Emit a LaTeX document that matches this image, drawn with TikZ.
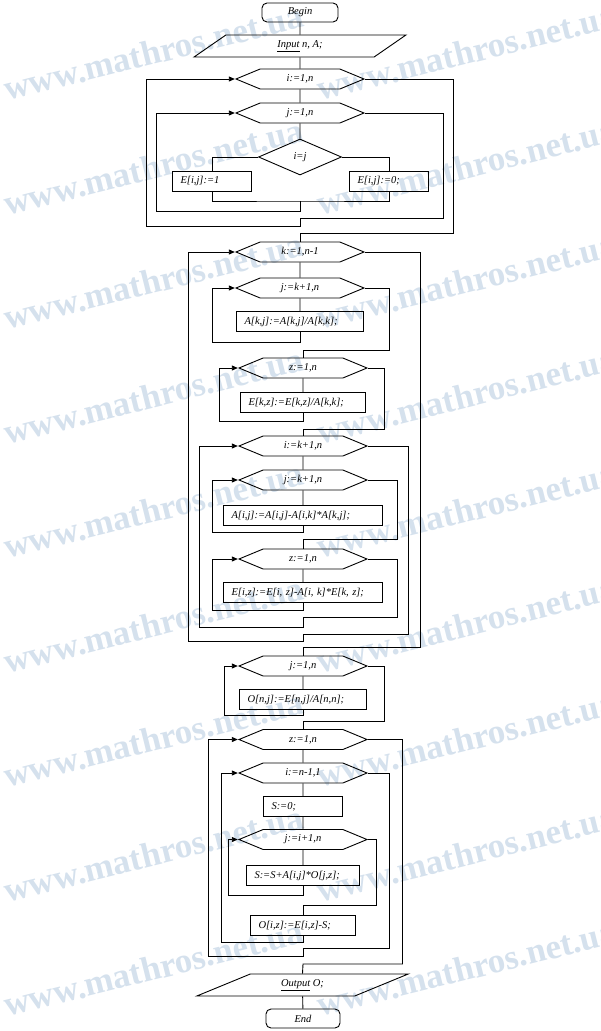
\documentclass[tikz,border=0pt]{standalone}
\usepackage{fontspec}
\setmainfont{Liberation Serif}
\usetikzlibrary{shapes.geometric,shapes.symbols,arrows.meta}

\definecolor{wmblue}{RGB}{213,225,237}
\tikzset{every picture/.style={line width=0.9pt}}
\tikzset{
	term/.style={draw, rounded corners=5, minimum width=#1, minimum height=19, inner sep=0},
	io/.style 2 args={draw, trapezium, trapezium left angle=#1, trapezium right angle={180-#1}, trapezium stretches=true, minimum width=#2, minimum height=22, inner sep=0},
	hexa/.style={draw, signal, signal to=west and east, signal pointer angle=45, minimum width=128, minimum height=20, inner sep=0},
	cond/.style={draw, diamond, minimum width=83, minimum height=36, inner sep=0},
	proc/.style={draw, minimum height=20, inner xsep=8, inner ysep=0, text width={#1-16}, align=left},
	arr/.style={-{Triangle[length=6pt,width=5pt]}},
	wm/.style={font=\fontsize{35}{35}\selectfont\bfseries, text=wmblue, rotate=14, anchor=base west, inner sep=0}
}

\begin{document}
\begin{tikzpicture}[x=1pt,y=1pt,yscale=-1,xscale=1,font=\itshape\fontsize{10.5}{12}\selectfont]
	\useasboundingbox (0,0) rectangle (600,1031);
	
	%Watermark
	\begin{scope}
		\clip (0,0) rectangle (600,1031);
		\foreach \r in {0,...,8}
			\foreach \c in {0,1}
				\node[wm] (wm-\r-\c) at ({7+313*\c},{101+114.5*\r}) {www.mathros.net.ua};
	\end{scope}
	
	%Shape: Terminal
	\node[term=76] (begin) at (300,12.5) {Begin};
	%Shape: Parallelogram
	\node[io={49}{213}] (input) at (300,46) {\underline{Input} n, A;};
	%Shape: Hexagon
	\node[hexa] (H1) at (300,79) {i:=1,n};
	\node[hexa] (H2) at (300,113) {j:=1,n};
	%Shape: Diamond
	\node[cond] (D) at (300,157) {i=j};
	%Shape: Rectangle
	\node[proc=79] (E1) at (212,181) {E[i,j]:=1};
	\node[proc=79] (E0) at (389,181) {E[i,j]:=0;};
	
	\node[hexa] (H3) at (300,252) {k:=1,n-1};
	\node[hexa] (H4) at (300,288) {j:=k+1,n};
	\node[proc=127] (B1) at (300,321.5) {A[k,j]:=A[k,j]/A[k,k];};
	\node[hexa] (H5) at (303,368) {z:=1,n};
	\node[proc=125] (B2) at (303,402.5) {E[k,z]:=E[k,z]/A[k,k];};
	\node[hexa] (H6) at (303,446) {i:=k+1,n};
	\node[hexa] (H7) at (303,480) {j:=k+1,n};
	\node[proc=159] (B3) at (303,515.5) {A[i,j]:=A[i,j]-A[i,k]*A[k,j];};
	\node[hexa] (H8) at (303,559) {z:=1,n};
	\node[proc=159] (B4) at (303,592.5) {E[i,z]:=E[i, z]-A[i, k]*E[k, z];};
	
	\node[hexa] (H9) at (303,666) {j:=1,n};
	\node[proc=127] (B5) at (303,699.5) {O[n,j]:=E[n,j]/A[n,n];};
	\node[hexa] (H10) at (303,739.5) {z:=1,n};
	\node[hexa] (H11) at (303,773) {i:=n-1,1};
	\node[proc=79] (B6) at (303,806.5) {S:=0;};
	\node[hexa] (H12) at (303,839.5) {j:=i+1,n};
	\node[proc=113] (B7) at (303,875.5) {S:=S+A[i,j]*O[j,z];};
	\node[proc=105] (B8) at (303,925.5) {O[i,z]:=E[i,z]-S;};
	\node[io={27}{212}] (output) at (302.5,985) {\underline{Output} O;};
	\node[term=74] (finish) at (303,1018.5) {End};
	
	%Loop corners
	\coordinate (M1) at (300,201);
	\coordinate (L2r) at (156,211);
	\coordinate (L2x) at (443,218);
	\coordinate (L2o) at (300,218);
	\coordinate (L1r) at (146,226);
	\coordinate (L1x) at (453,233);
	\coordinate (L1o) at (300,233);
	\coordinate (L4r) at (212,342);
	\coordinate (L4x) at (389,350);
	\coordinate (L4o) at (303,350);
	\coordinate (L5r) at (219,421);
	\coordinate (L5x) at (384,429);
	\coordinate (L5o) at (303,429);
	\coordinate (L7r) at (212,532);
	\coordinate (L7x) at (397,539);
	\coordinate (L7o) at (303,539);
	\coordinate (L8r) at (212,610);
	\coordinate (L8x) at (397,617);
	\coordinate (L8o) at (303,617);
	\coordinate (L6r) at (199,627);
	\coordinate (L6x) at (408.5,634);
	\coordinate (L6o) at (303,634);
	\coordinate (L3r) at (188.5,641);
	\coordinate (L3x) at (420.5,647);
	\coordinate (L3o) at (303,647);
	\coordinate (L9r) at (224.5,715.5);
	\coordinate (L9x) at (384,721);
	\coordinate (L9o) at (303,721);
	\coordinate (L12r) at (228.5,895);
	\coordinate (L12x) at (376,905);
	\coordinate (L12o) at (303,905);
	\coordinate (L11r) at (221.5,942.5);
	\coordinate (L11x) at (389,948.5);
	\coordinate (L11o) at (303,948.5);
	\coordinate (L10r) at (208.5,956);
	\coordinate (L10x) at (402.5,964);
	\coordinate (L10o) at (303,964);
	
	%Straight Lines
	\draw (begin) -- (input);
	\draw (input) -- (H1);
	\draw (H1) -- (H2);
	\draw (H2) -- (D);
	\draw (D.west) -| (E1.north);
	\draw (D.east) -| (E0.north);
	\draw (E1.south) |- (M1) -| (E0.south);
	\draw[arr] (M1) |- (L2r) |- (H2.west);
	\draw (H2.east) -| (L2x) -- (L2o);
	\draw[arr] (L2o) |- (L1r) |- (H1.west);
	\draw (H1.east) -| (L1x) -- (L1o) -- (H3.north);
	
	\draw (H3) -- (H4);
	\draw (H4) -- (B1);
	\draw[arr] (B1.south) |- (L4r) |- (H4.west);
	\draw (H4.east) -| (L4x) -- (L4o) -- (H5.north);
	\draw (H5) -- (B2);
	\draw[arr] (B2.south) |- (L5r) |- (H5.west);
	\draw (H5.east) -| (L5x) -- (L5o) -- (H6.north);
	\draw (H6) -- (H7);
	\draw (H7) -- (B3);
	\draw[arr] (B3.south) |- (L7r) |- (H7.west);
	\draw (H7.east) -| (L7x) -- (L7o) -- (H8.north);
	\draw (H8) -- (B4);
	\draw[arr] (B4.south) |- (L8r) |- (H8.west);
	\draw (H8.east) -| (L8x) -- (L8o);
	\draw[arr] (L8o) |- (L6r) |- (H6.west);
	\draw (H6.east) -| (L6x) -- (L6o);
	\draw[arr] (L6o) |- (L3r) |- (H3.west);
	\draw (H3.east) -| (L3x) -- (L3o) -- (H9.north);
	
	\draw (H9) -- (B5);
	\draw[arr] (B5.south) |- (L9r) |- (H9.west);
	\draw (H9.east) -| (L9x) -- (L9o) -- (H10.north);
	\draw (H10) -- (H11);
	\draw (H11) -- (B6);
	\draw (B6) -- (H12);
	\draw (H12) -- (B7);
	\draw[arr] (B7.south) |- (L12r) |- (H12.west);
	\draw (H12.east) -| (L12x) -- (L12o) -- (B8.north);
	\draw[arr] (B8.south) |- (L11r) |- (H11.west);
	\draw (H11.east) -| (L11x) -- (L11o);
	\draw[arr] (L11o) |- (L10r) |- (H10.west);
	\draw (H10.east) -| (L10x) -- (L10o) -- (output.north);
	\draw (output) -- (finish);
	
\end{tikzpicture}
\end{document}
